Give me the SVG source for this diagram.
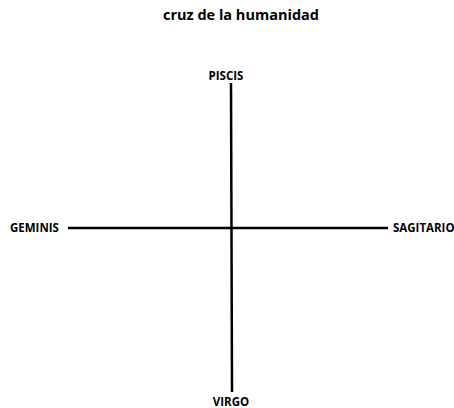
<svg xmlns="http://www.w3.org/2000/svg" width="454" height="408" viewBox="0 0 454 408">
<style>
.t{font-family:"Open Sans","Liberation Sans",sans-serif;font-weight:bold;fill:#000}
.lbl{font-size:11.5px}
.ln{stroke:#000;stroke-width:2.5;fill:none}
</style>
<rect width="454" height="408" fill="#fff"/>
<text class="t" x="241" y="20" font-size="14.5" text-anchor="middle">cruz de la humanidad</text>
<g id="connectors">
<line class="ln" x1="231" y1="83" x2="232" y2="392"/>
<line class="ln" x1="68" y1="228" x2="388" y2="228"/>
</g>
<g id="piscis"><text class="t lbl" x="226" y="80" text-anchor="middle">PISCIS</text></g>
<g id="geminis"><text class="t lbl" x="10" y="232">GEMINIS</text></g>
<g id="sagitario"><text class="t lbl" x="393" y="232">SAGITARIO</text></g>
<g id="virgo"><text class="t lbl" x="231" y="406" text-anchor="middle">VIRGO</text></g>
</svg>
